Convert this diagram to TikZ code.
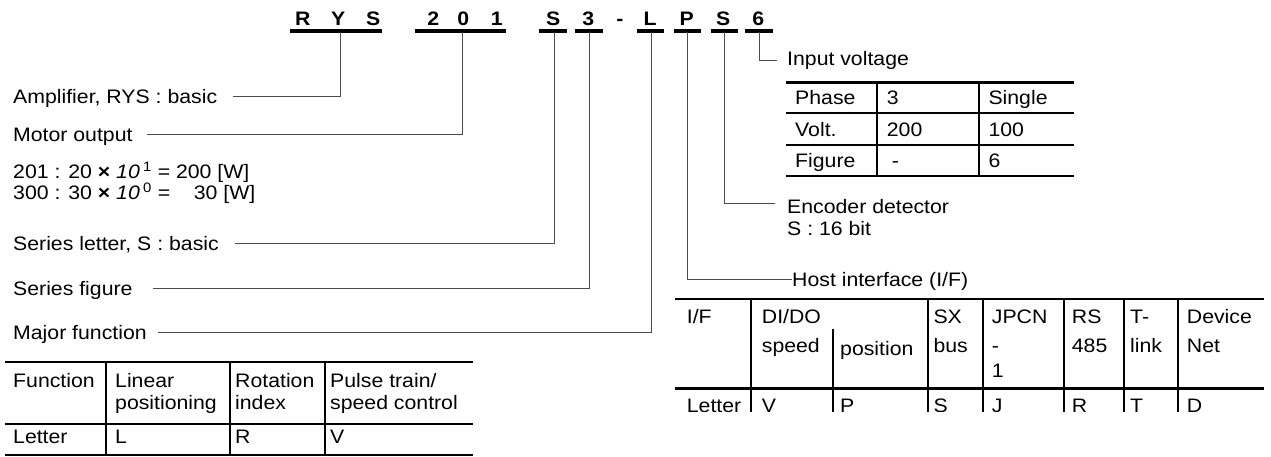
\documentclass[tikz,border=0pt]{standalone}
\usepackage{fontspec}
\setmainfont{Liberation Sans}[FakeStretch=1.09]
\begin{document}
\begin{tikzpicture}[x=1pt,y=-1pt,
  every node/.style={font=\fontsize{19.5}{23}\selectfont, inner sep=0pt, text height=14pt, text depth=0pt},
  lbl/.style={anchor=west},
  hd/.style={font=\fontsize{19.5}{23}\selectfont\bfseries},
  conn/.style={draw=black!70, line width=1pt},
  bar/.style={line width=3.2pt},
  hline/.style={line width=2.4pt},
  vline/.style={line width=1.8pt}]
\useasboundingbox (0,0) rectangle (1271,457);
% ---- header code
\node[hd] (hR)  at (302.7,18.3) {R};
\node[hd] (hY)  at (338.3,18.3) {Y};
\node[hd] (hS1) at (373.3,18.3) {S};
\node[hd] (h2)  at (433.3,18.3) {2};
\node[hd] (h0)  at (463.3,18.3) {0};
\node[hd] (h1)  at (496.7,18.3) {1};
\node[hd] (hS2) at (553.3,18.3) {S};
\node[hd] (h3)  at (588.3,18.3) {3};
\node[hd] (hD)  at (620,18.3) {-};
\node[hd] (hL)  at (650,18.3) {L};
\node[hd] (hP)  at (686.7,18.3) {P};
\node[hd] (hS3) at (723.3,18.3) {S};
\node[hd] (h6)  at (758.3,18.3) {6};
\draw[bar] (290,31) -- (382,31);
\draw[bar] (415,31) -- (506,31);
\draw[bar] (539,31) -- (567,31);
\draw[bar] (575,31) -- (603,31);
\draw[bar] (637,31) -- (664,31);
\draw[bar] (674,31) -- (701,31);
\draw[bar] (711,31) -- (738,31);
\draw[bar] (745,31) -- (773,31);
\coordinate (tY)   at (340,32);
\coordinate (t201) at (462,32);
\coordinate (tS)   at (554,32);
\coordinate (t3)   at (589,32);
\coordinate (tL)   at (651,32);
\coordinate (tP)   at (687,32);
\coordinate (tS3)  at (724,32);
\coordinate (t6)   at (759,32);
% ---- left labels
\node[lbl] (amp)  at (13,97)  {Amplifier, RYS : basic};
\node[lbl] (mot)  at (13,135) {Motor output};
\node[lbl] (m201) at (13,172) {201 : 20 \textbf{×} \textit{10}\,\textsuperscript{1} = 200 [W]};
\node[lbl] (m300) at (13,193) {300 : 30 \textbf{×} \textit{10}\,\textsuperscript{0} = \phantom{2}\ 30 [W]};
\node[lbl] (ser)  at (13,243) {Series letter, S : basic};
\node[lbl] (sfig) at (13,288) {Series figure};
\node[lbl] (maj)  at (13,332) {Major function};
\coordinate (eAmp) at (233,97);
\coordinate (eMot) at (147,135);
\coordinate (eSL)  at (235,243);
\coordinate (eSF)  at (153,288);
\coordinate (eMaj) at (158,332);
\draw[conn] (tY) |- (eAmp);
\draw[conn] (t201) |- (eMot);
\draw[conn] (tS) |- (eSL);
\draw[conn] (t3) |- (eSF);
\draw[conn] (tL) |- (eMaj);
% ---- right labels
\node[lbl] (inv)  at (787,58.3)  {Input voltage};
\node[lbl] (enc)  at (787,206.7) {Encoder detector};
\node[lbl] (enc2) at (787,229)   {S : 16 bit};
\node[lbl] (host) at (792,279)   {Host interface (I/F)};
\coordinate (eInv) at (777,61);
\coordinate (eEnc) at (775,204);
\draw[conn] (t6) |- (eInv);
\draw[conn] (tS3) |- (eEnc);
\draw[conn] (tP) |- (host.west);
% ---- input voltage table
\foreach \y in {82.7,113.3,145,176} \draw[hline] (786,\y) -- (1074,\y);
\foreach \x in {876.7,979} \draw[vline] (\x,82.7) -- (\x,176);
\node[lbl] (ph)  at (795,98)    {Phase};
\node[lbl] (ph3) at (886.7,98)  {3};
\node[lbl] (phs) at (988.3,98)  {Single};
\node[lbl] (vo)  at (795,129.3) {Volt.};
\node[lbl] (vo2) at (886.7,129.3) {200};
\node[lbl] (vo1) at (988.3,129.3) {100};
\node[lbl] (fg)  at (795,160.5) {Figure};
\node[lbl] (fgd) at (891.7,160.5) {-};
\node[lbl] (fg6) at (988.3,160.5) {6};
% ---- major function table
\foreach \y in {362,424,455} \draw[hline] (5,\y) -- (473,\y);
\foreach \x in {106,230,325} \draw[vline] (\x,362) -- (\x,455);
\node[lbl] (fA) at (13,380)   {Function};
\node[lbl] (fB) at (115,380)  {Linear};
\node[lbl] (fC) at (235,380)  {Rotation};
\node[lbl] (fD) at (330,380)  {Pulse train/};
\node[lbl] (fB2) at (115,402.7) {positioning};
\node[lbl] (fC2) at (235,402.7) {index};
\node[lbl] (fD2) at (330,402.7) {speed control};
\node[lbl] (lA) at (13,436)   {Letter};
\node[lbl] (lB) at (115,436)  {L};
\node[lbl] (lC) at (235,436)  {R};
\node[lbl] (lD) at (330,436)  {V};
% ---- host interface table (cut off)
\begin{scope}
\clip (660,290) rectangle (1271,411.7);
\foreach \y in {299,388.3} \draw[hline] (675,\y) -- (1264,\y);
\foreach \x in {750.7,928.3,983.3,1064,1124,1178.3} \draw[vline] (\x,299) -- (\x,430);
\draw[vline] (833.3,329.3) -- (833.3,430);
\node[lbl] (iA) at (686.7,316.7) {I/F};
\node[lbl] (iB) at (761.7,316.7) {DI/DO};
\node[lbl] (iD) at (933.3,316.7) {SX};
\node[lbl] (iE) at (991.7,316.7) {JPCN};
\node[lbl] (iF) at (1071.7,316.7) {RS};
\node[lbl] (iG) at (1130,316.7) {T-};
\node[lbl] (iH) at (1186.7,316.7) {Device};
\node[lbl] (jB) at (761.7,345) {speed};
\node[lbl] (jC) at (840,348.5) {position};
\node[lbl] (jD) at (933.3,345) {bus};
\node[lbl] (jE) at (991.7,345) {-};
\node[lbl] (jF) at (1071.7,345) {485};
\node[lbl] (jG) at (1130,345) {link};
\node[lbl] (jH) at (1186.7,345) {Net};
\node[lbl] (kE) at (991.7,370) {1};
\node[lbl] (xA) at (686.7,405) {Letter};
\node[lbl] (xB) at (761.7,405) {V};
\node[lbl] (xC) at (840,405) {P};
\node[lbl] (xD) at (933.3,405) {S};
\node[lbl] (xE) at (991.7,405) {J};
\node[lbl] (xF) at (1071.7,405) {R};
\node[lbl] (xG) at (1130,405) {T};
\node[lbl] (xH) at (1186.7,405) {D};
\end{scope}
\end{tikzpicture}
\end{document}
